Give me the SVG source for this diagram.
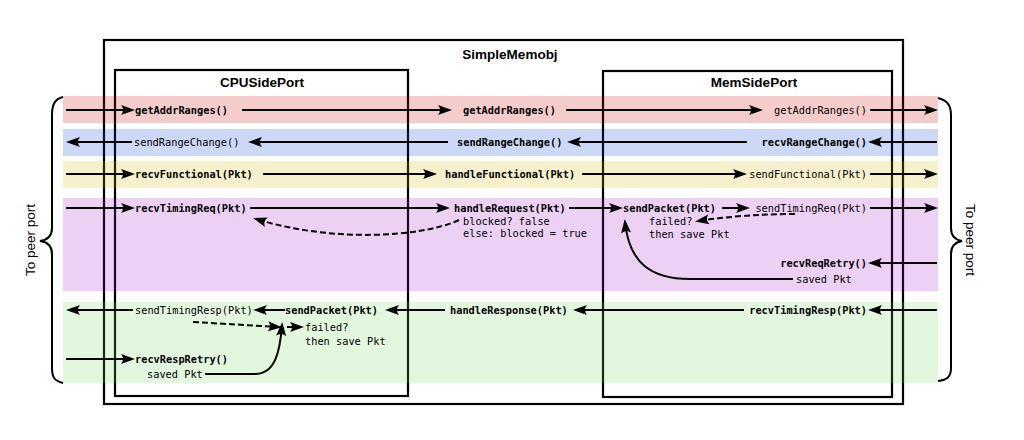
<svg xmlns="http://www.w3.org/2000/svg" width="1024" height="440" viewBox="0 0 1024 440">
<style>
.box{fill:none;stroke:#000;stroke-width:2.2}
.title{font-family:"Liberation Sans",Arial,sans-serif;font-weight:bold;font-size:13.5px;text-anchor:middle;fill:#000}
.side{font-family:"Liberation Sans",Arial,sans-serif;font-size:13.5px;text-anchor:middle;fill:#000}
.m{font-family:"DejaVu Sans Mono",monospace;font-size:10.3px;fill:#000}
.b{font-weight:bold}
.e{text-anchor:end}
.c{fill:none;stroke:#000;stroke-width:2}
.a{marker-end:url(#ah)}
.d{stroke-dasharray:6,3}
.br{fill:none;stroke:#000;stroke-width:2}
</style>
<defs>
<marker id="ah" viewBox="-12 -6 16 12" markerWidth="16" markerHeight="12" refX="0" refY="0" orient="auto" markerUnits="userSpaceOnUse">
<path d="M3,0 L-11,-5 Q-7,0 -11,5 Z" fill="#000"/>
</marker>
</defs>
<rect width="1024" height="440" fill="#fff"/>

<g id="SimpleMemobj">
<rect class="box" x="104" y="40" width="799" height="364"/>
<text class="title" x="510" y="59">SimpleMemobj</text>
</g>
<g id="CPUSidePort">
<rect class="box" x="115" y="70" width="293" height="326"/>
<text class="title" x="262" y="87">CPUSidePort</text>
</g>
<g id="MemSidePort">
<rect class="box" x="603" y="71" width="289" height="326"/>
<text class="title" x="754" y="87">MemSidePort</text>
</g>

<g id="bands">
<rect x="63" y="96" width="875" height="27" fill="rgb(200,0,0)" fill-opacity="0.2"/>
<rect x="63" y="129" width="875" height="27" fill="rgb(0,60,205)" fill-opacity="0.2"/>
<rect x="63" y="161" width="875" height="27" fill="rgb(210,185,0)" fill-opacity="0.2"/>
<rect x="63" y="198" width="875" height="93" fill="rgb(165,25,205)" fill-opacity="0.2"/>
<rect x="63" y="302" width="875" height="81" fill="rgb(115,215,95)" fill-opacity="0.2"/>
</g>

<g id="braces">
<path class="br" d="M63,97 C55,99 52,104 52,115 L52,228 C52,236 47,240 40,241 C47,242 52,246 52,254 L52,368 C52,378 55,381 63,383"/>
<path class="br" d="M938,98 C946,100 951,104 951,115 L951,228 C951,236 956,240 962,241 C956,242 951,246 951,254 L951,368 C951,377 947,380 938,381"/>
<text class="side" transform="translate(35,240) rotate(-90)">To peer port</text>
<text class="side" transform="translate(966,240) rotate(90)">To peer port</text>
</g>

<g id="connectors">
<!-- row 1 -->
<path class="c a" d="M66,110 H132"/>
<path class="c a" d="M242,110 H449"/>
<path class="c a" d="M566,110 H760"/>
<path class="c a" d="M870,110 H935"/>
<!-- row 2 -->
<path class="c a" d="M132,142 H69"/>
<path class="c a" d="M448,142 H251"/>
<path class="c a" d="M747,142 H570"/>
<path class="c a" d="M937,142 H871"/>
<!-- row 3 -->
<path class="c a" d="M66,174 H132"/>
<path class="c a" d="M263,174 H434"/>
<path class="c a" d="M582,174 H744"/>
<path class="c a" d="M870,174 H935"/>
<!-- row 4 -->
<path class="c a" d="M66,208 H132"/>
<path class="c a" d="M250,208 H447"/>
<path class="c a" d="M569,208 H620"/>
<path class="c a" d="M722,208 H747"/>
<path class="c a" d="M870,208 H935"/>
<path class="c d a" d="M459,220 C420,238 330,242 256,219"/>
<path class="c d a" d="M795,214 Q745,214 698,221"/>
<path class="c a" d="M793,279 L690,279 C650,279 629,262 625,222"/>
<path class="c a" d="M937,263 H871"/>
<!-- green -->
<path class="c a" d="M133,310 H69"/>
<path class="c a" d="M285,310 H256"/>
<path class="c a" d="M445,310 H388"/>
<path class="c a" d="M744,310 H576"/>
<path class="c a" d="M937,310 H871"/>
<path class="c d a" d="M193,322 L279,327"/>
<path class="c a" d="M287,327 H301"/>
<path class="c a" d="M205,374 L255,374 C275,374 280,352 282,325"/>
<path class="c a" d="M66,359 H132"/>
</g>

<g id="labels">
<text class="m b" x="135" y="113.5">getAddrRanges()</text>
<text class="m b" x="463" y="113.5">getAddrRanges()</text>
<text class="m e" x="867" y="113.5">getAddrRanges()</text>

<text class="m" x="134" y="145.5">sendRangeChange()</text>
<text class="m b" x="457" y="145.5">sendRangeChange()</text>
<text class="m b e" x="867" y="145.5">recvRangeChange()</text>

<text class="m b" x="135" y="177.5">recvFunctional(Pkt)</text>
<text class="m b" x="445" y="177.5">handleFunctional(Pkt)</text>
<text class="m e" x="867" y="177.5">sendFunctional(Pkt)</text>

<text class="m b" x="135" y="211.5">recvTimingReq(Pkt)</text>
<text class="m b" x="454" y="211.5">handleRequest(Pkt)</text>
<text class="m" x="463" y="224.5">blocked? false</text>
<text class="m" x="463" y="236.5">else: blocked = true</text>
<text class="m b" x="623" y="211.5">sendPacket(Pkt)</text>
<text class="m" x="649" y="224.5">failed?</text>
<text class="m" x="649" y="237.5">then save Pkt</text>
<text class="m e" x="867" y="211.5">sendTimingReq(Pkt)</text>
<text class="m b e" x="867" y="266.5">recvReqRetry()</text>
<text class="m" x="796" y="282.5">saved Pkt</text>

<text class="m" x="135" y="313.5">sendTimingResp(Pkt)</text>
<text class="m b" x="285" y="313.5">sendPacket(Pkt)</text>
<text class="m" x="305" y="330.5">failed?</text>
<text class="m" x="305" y="344.5">then save Pkt</text>
<text class="m b" x="450" y="313.5">handleResponse(Pkt)</text>
<text class="m b e" x="867" y="313.5">recvTimingResp(Pkt)</text>
<text class="m b" x="135" y="362.5">recvRespRetry()</text>
<text class="m" x="147" y="377.5">saved Pkt</text>
</g>
</svg>
